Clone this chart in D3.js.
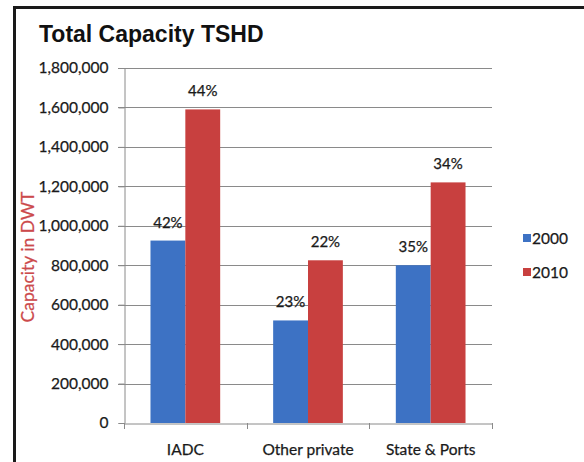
<!DOCTYPE html>
<html>
<head>
<meta charset="utf-8">
<script src="https://cdn.jsdelivr.net/npm/d3@7"></script>
<style>
  html, body { margin: 0; padding: 0; background: #fff; }
  svg { display: block; }
  text { font-family: Lato, "Open Sans", sans-serif; }
</style>
</head>
<body>
<script>
const categories = ["IADC", "Other private", "State & Ports"];
const seriesNames = ["2000", "2010"];
const values2000 = [925000, 520000, 800000];
const values2010 = [1590000, 825000, 1220000];
const labels2000 = ["42%", "23%", "35%"];
const labels2010 = ["44%", "22%", "34%"];
const yTicks = [0, 200000, 400000, 600000, 800000, 1000000, 1200000, 1400000, 1600000, 1800000];
const colors = ["#3d72c4", "#c8403f"];

const W = 584, H = 462;
const svg = d3.select("body").append("svg").attr("width", W).attr("height", H);

// frame
svg.append("line").attr("x1", 13).attr("x2", W).attr("y1", 7.5).attr("y2", 7.5)
  .attr("stroke", "#1a1a1a").attr("stroke-width", 3);
svg.append("line").attr("x1", 14.5).attr("x2", 14.5).attr("y1", 6).attr("y2", H)
  .attr("stroke", "#1a1a1a").attr("stroke-width", 3);

svg.append("text").attr("x", 39).attr("y", 42)
  .attr("font-weight", "bold").attr("font-size", 23).attr("fill", "#111")
  .style("font-family", "'Liberation Sans', Arial, sans-serif")
  .text("Total Capacity TSHD");

const L = 124, R = 492, T = 68, B = 423;
const y = d3.scaleLinear().domain([0, 1800000]).range([B, T]);
const x = d3.scaleBand().domain(categories).range([L, R]).paddingInner(0).paddingOuter(0);
const xs = d3.scaleBand().domain(seriesNames).range([0, x.bandwidth()]).paddingInner(0).paddingOuter(0.76);

const txt = sel => sel.attr("fill", "#1a1a1a").attr("stroke", "#1a1a1a").attr("stroke-width", 0.25);

// gridlines
svg.append("g").selectAll("line").data(yTicks.filter(d => d > 0)).join("line")
  .attr("x1", L - 6).attr("x2", R).attr("y1", d => Math.round(y(d)) + 0.5).attr("y2", d => Math.round(y(d)) + 0.5)
  .attr("stroke", "#8a8a8a").attr("stroke-width", 1);

// y axis
const yAxis = d3.axisLeft(y).tickValues(yTicks).tickSize(6).tickPadding(10)
  .tickFormat(d3.format(","));
const gy = svg.append("g").attr("transform", `translate(${L + 0.5},0)`).call(yAxis);
gy.select(".domain").attr("stroke", "#8a8a8a");
gy.selectAll(".tick line").attr("stroke", "#8a8a8a");
gy.selectAll(".tick text").attr("font-size", 15.5).call(txt)
  .style("font-family", "Lato, sans-serif");

// bars
const data = categories.map((c, i) => ({c, vals: [values2000[i], values2010[i]], labs: [labels2000[i], labels2010[i]]}));
const groups = svg.append("g").selectAll("g").data(data).join("g")
  .attr("transform", d => `translate(${x(d.c)},0)`);
groups.selectAll("rect").data(d => d.vals.map((v, j) => ({v, s: seriesNames[j], j}))).join("rect")
  .attr("x", d => xs(d.s)).attr("width", xs.bandwidth())
  .attr("y", d => y(d.v)).attr("height", d => B - y(d.v))
  .attr("fill", d => colors[d.j]);
groups.selectAll("text.pct").data(d => d.vals.map((v, j) => ({v, s: seriesNames[j], lab: d.labs[j]}))).join("text")
  .attr("class", "pct")
  .attr("x", d => xs(d.s) + xs.bandwidth() / 2)
  .attr("y", d => y(d.v) - 13)
  .attr("text-anchor", "middle").attr("font-size", 15).call(txt)
  .text(d => d.lab);

// x axis
const xAxis = d3.axisBottom(x).tickSize(0).tickPadding(20);
const gx = svg.append("g").attr("transform", `translate(0,${B + 0.5})`).call(xAxis);
gx.select(".domain").attr("stroke", "#8a8a8a");
gx.selectAll(".tick text").attr("font-size", 15.5).call(txt)
  .style("font-family", "Lato, sans-serif");
// category boundary ticks
svg.append("g").selectAll("line").data([0, 1, 2, 3]).join("line")
  .attr("x1", i => Math.round(L + i * x.step()) + 0.5).attr("x2", i => Math.round(L + i * x.step()) + 0.5)
  .attr("y1", B).attr("y2", B + 6).attr("stroke", "#8a8a8a");

// y title
svg.append("text")
  .attr("transform", `translate(34,257) rotate(-90)`)
  .attr("text-anchor", "middle").attr("font-size", 17.5).attr("fill", "#cc4a4c")
  .attr("stroke", "#cc4a4c").attr("stroke-width", 0.25)
  .text("Capacity in DWT");

// legend
const leg = svg.append("g").selectAll("g").data(seriesNames).join("g")
  .attr("transform", (d, i) => `translate(523,${238 + i * 34})`);
leg.append("rect").attr("x", 0).attr("y", -4).attr("width", 8).attr("height", 8)
  .attr("fill", (d, i) => colors[i]);
leg.append("text").attr("x", 9).attr("y", 5.5).attr("font-size", 15.5).call(txt).text(d => d);
</script>
</body>
</html>
